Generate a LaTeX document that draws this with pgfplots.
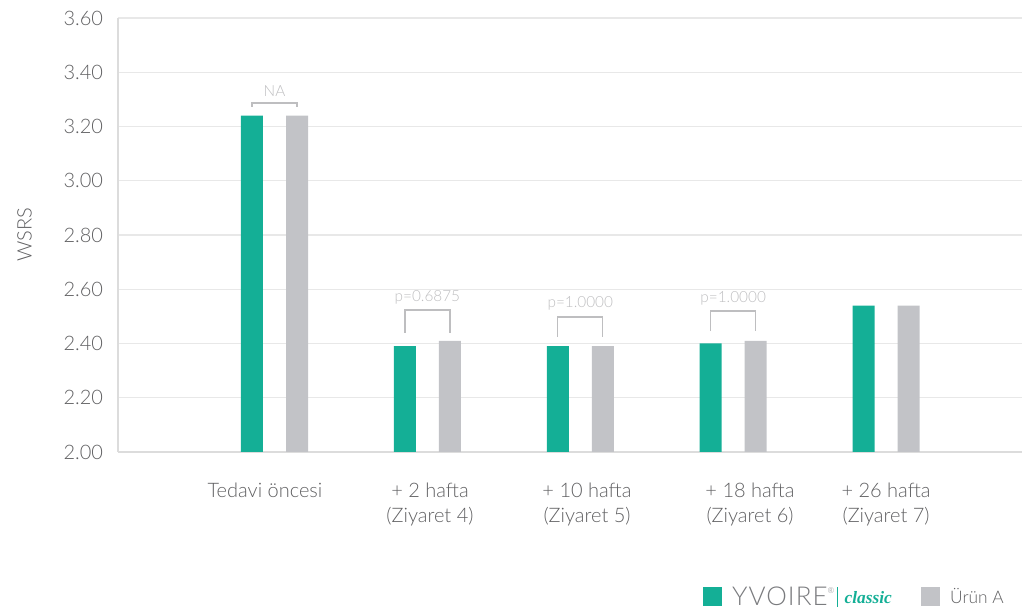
\documentclass[border=0pt]{standalone}
\usepackage{fontspec}
\IfFontExistsTF{Lato Light}{\setmainfont{Lato Light}}{\setmainfont{Lato}}
\newfontfamily\serifit{Liberation Serif}
\usepackage{pgfplots}
\pgfplotsset{compat=1.18}

\definecolor{yvgreen}{HTML}{14AF96}
\definecolor{ungray}{HTML}{C2C3C7}
\definecolor{gridgray}{HTML}{E8E8E8}
\definecolor{axgray}{HTML}{DCDCDC}
\definecolor{txtgray}{HTML}{606062}
\definecolor{anngray}{HTML}{BEBEC0}
\definecolor{logogray}{HTML}{7A7B7E}

\begin{document}
\begin{tikzpicture}
\begin{axis}[
    name=ax,
    scale only axis,
    width=678pt, height=325.5pt,
    xmin=-0.0235, xmax=5.889,
    ymin=2, ymax=3.6,
    ytick={2.0,2.2,2.4,2.6,2.8,3.0,3.2,3.4,3.6},
    xtick={0.938,2.017,3.044,4.11,5.0},
    xticklabels={Tedavi öncesi, {+ 2 hafta\\(Ziyaret 4)}, {+ 10 hafta\\(Ziyaret 5)},
                 {+ 18 hafta\\(Ziyaret 6)}, {+ 26 hafta\\(Ziyaret 7)}},
    /pgf/number format/assume math mode=true,
    yticklabel style={/pgf/number format/fixed, /pgf/number format/fixed zerofill,
                      /pgf/number format/precision=2},
    y tick label style={font=\fontsize{15}{18}\selectfont, text=txtgray, inner sep=0pt, xshift=-11pt},
    x tick label style={font=\fontsize{15}{19}\selectfont, text=txtgray, align=center,
                        inner sep=0pt, anchor=north, yshift=-23pt},
    major tick length=0pt,
    axis x line*=bottom, axis y line*=left,
    axis line style={axgray, line width=1.5pt, -},
    ymajorgrids,
    grid style={gridgray, line width=1pt},
    ylabel={WSRS},
    every axis y label/.style={at={(rel axis cs:0,0.5)}, rotate=90, anchor=center,
                               yshift=70pt, font=\fontsize{15}{18}\selectfont, text=txtgray},
    legend columns=2,
    legend style={at={(0.647,-0.334)}, anchor=west, draw=none, fill=none,
                  inner sep=0pt, nodes={inner sep=0pt},
                  /tikz/every odd column/.append style={column sep=7.5pt},
                  /tikz/every even column/.append style={column sep=22pt}},
    legend image code/.code={\fill[#1] (0pt,-7.1pt) rectangle (14.25pt,7.1pt);},
]
\addplot[ybar, bar width=16.5pt, bar shift=-16.9pt, fill=yvgreen, draw=none]
    coordinates {(1,3.24) (2,2.39) (3,2.39) (4,2.40) (5,2.54)};
\addlegendentry{\fontsize{19.5}{19.5}\selectfont\addfontfeature{LetterSpace=4}\color{logogray}YVOIRE\raisebox{0.9ex}{\fontsize{6}{6}\selectfont ®}\hspace{2pt}{\color{yvgreen}\rule[-1pt]{0.7pt}{15pt}}\hspace{5pt}\raisebox{1.5pt}{\serifit\itshape\bfseries\fontsize{13}{13}\selectfont\color{yvgreen}classic}}
\addplot[ybar, bar width=16.5pt, bar shift=16.9pt, fill=ungray, draw=none]
    coordinates {(1,3.24) (2,2.41) (3,2.39) (4,2.41) (5,2.54)};
\addlegendentry{\fontsize{13}{13}\selectfont\color{txtgray}Ürün A}

% significance brackets
\draw[anngray, line width=1pt] (axis cs:0.853,3.272) |- (axis cs:1.147,3.287) -- (axis cs:1.147,3.272);
\draw[anngray, line width=1pt] (axis cs:1.853,2.439) |- (axis cs:2.147,2.523) -- (axis cs:2.147,2.439);
\draw[anngray, line width=1pt] (axis cs:2.853,2.424) |- (axis cs:3.147,2.498) -- (axis cs:3.147,2.424);
\draw[anngray, line width=1pt] (axis cs:3.853,2.446) |- (axis cs:4.147,2.520) -- (axis cs:4.147,2.446);
\node[text=anngray, font=\fontsize{11.5}{13}\selectfont] at (axis cs:1,3.331) {NA};
\node[text=anngray, font=\fontsize{11.5}{13}\selectfont] at (axis cs:2,2.571) {p=0.6875};
\node[text=anngray, font=\fontsize{11.5}{13}\selectfont] at (axis cs:3,2.549) {p=1.0000};
\node[text=anngray, font=\fontsize{11.5}{13}\selectfont] at (axis cs:4,2.568) {p=1.0000};
\end{axis}
\pgfresetboundingbox
\path (ax.south west) ++(-88.5pt,-118.5pt) coordinate (bl);
\path (ax.north east) ++(0pt,13.5pt) coordinate (tr);
\path[use as bounding box] (bl) rectangle (tr);
\end{tikzpicture}
\end{document}
